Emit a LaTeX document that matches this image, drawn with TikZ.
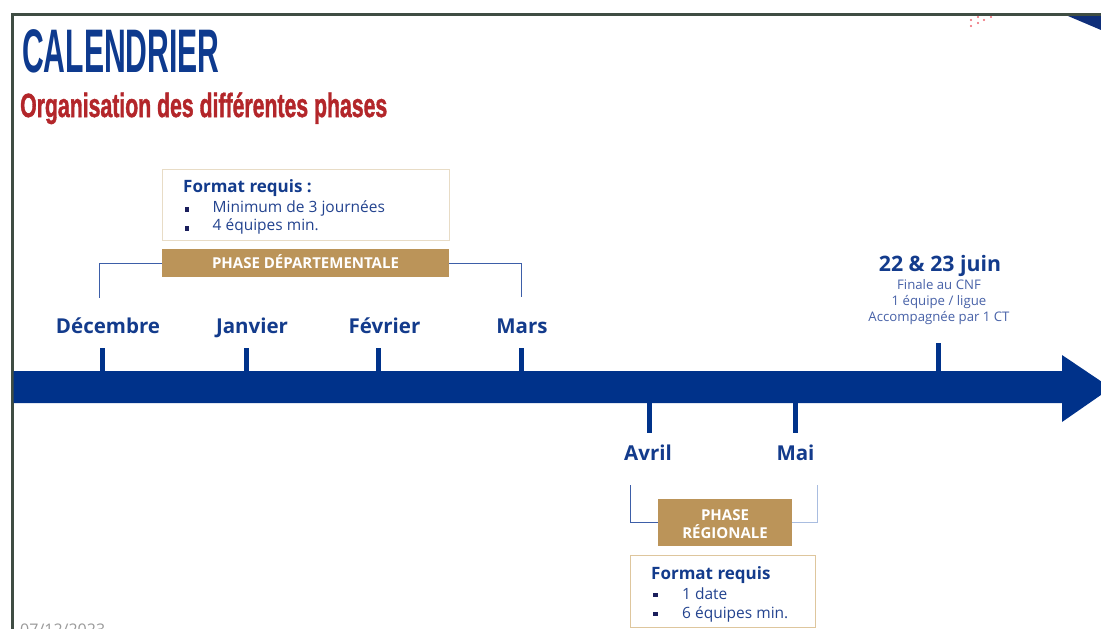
\documentclass[tikz,border=0pt]{standalone}
\usepackage{fontspec}
\setmainfont{Open Sans}
\newfontfamily\titlefont{Liberation Sans}
\newfontfamily\subfont{Liberation Sans Bold}[FakeBold=1.6]
\definecolor{navy}{HTML}{00328A}
\definecolor{titleblue}{HTML}{0E3A8E}
\definecolor{monthc}{HTML}{133B8C}
\definecolor{bodyc}{HTML}{23438F}
\definecolor{lightc}{HTML}{4862A8}
\definecolor{subred}{HTML}{B3262A}
\definecolor{gold}{HTML}{BB9459}
\definecolor{tanA}{HTML}{E8DCC6}
\definecolor{tanB}{HTML}{DEC69D}
\definecolor{brc}{HTML}{3D5EA8}
\definecolor{brclight}{HTML}{A9BDE0}
\definecolor{bulc}{HTML}{1B1F5C}
\definecolor{framec}{HTML}{3F4D43}
\definecolor{cornerc}{HTML}{0F2F7A}
\definecolor{dotc}{HTML}{EC6670}
\definecolor{datec}{HTML}{9A9A9A}
\tikzset{
  monthlbl/.style={font=\bfseries\fontsize{20.5}{24}\selectfont, text=monthc, inner sep=0pt, anchor=base},
  tickline/.style={line width=5pt, draw=navy},
  bodytxt/.style={font=\fontsize{15.5}{18}\selectfont, text=bodyc, inner sep=0pt, anchor=base west},
  fmthead/.style={font=\bfseries\fontsize{17}{20}\selectfont, text=monthc, inner sep=0pt, anchor=base west},
  goldbox/.style={fill=gold, inner sep=0pt, draw=none},
  goldtxt/.style={text=white, font=\bfseries\fontsize{15}{18}\selectfont, inner sep=0pt, anchor=base},
  fmtbox/.style={draw=#1, line width=1pt, inner sep=0pt},
  bracket/.style={draw=#1, line width=0.9pt},
  bulletsq/.style={fill=bulc},
  smalltxt/.style={font=\fontsize{13.2}{15}\selectfont, text=lightc, inner sep=0pt, anchor=base},
}
\begin{document}
\begin{tikzpicture}[x=1pt,y=-1pt]
\useasboundingbox (0,0) rectangle (1101,629);
\clip (0,0) rectangle (1101,629);
\fill[white] (0,0) rectangle (1101,629);
% frame
\fill[framec] (10.5,12.5) rectangle (1101,15.8);
\fill[framec] (10.5,12.5) rectangle (13.6,629);
\fill[cornerc] (1068,16) -- (1101,16) -- (1101,30) -- cycle;
\foreach \px/\py in {971/20,978/17,978/23,984/20,991/17,971/26}
  \fill[dotc] (\px,\py) circle (1.2);
% titles
\node[inner sep=0pt, anchor=base west, text=titleblue, font=\titlefont\bfseries\fontsize{61.5}{62}\selectfont] (title) at (22,72) {\scalebox{0.49}[1]{CALENDRIER}};
\node[inner sep=0pt, anchor=base west, text=subred, font=\subfont\fontsize{33.5}{34}\selectfont] (subtitle) at (20,117) {\scalebox{0.634}[1]{Organisation des différentes phases}};
% timeline arrow
\fill[navy] (13.6,371) -- (1062,371) -- (1062,355) -- (1111,388) -- (1062,422) -- (1062,403) -- (13.6,403) -- cycle;
% ticks
\coordinate (tDec) at (102,371);
\coordinate (tJan) at (246,371);
\coordinate (tFev) at (378,371);
\coordinate (tMar) at (521.5,371);
\coordinate (tJuin) at (938,371);
\coordinate (tAvr) at (649,403);
\coordinate (tMai) at (795,403);
\draw[tickline] (tDec) -- (102,348);
\draw[tickline] (tJan) -- (246,348);
\draw[tickline] (tFev) -- (378,348);
\draw[tickline] (tMar) -- (521.5,348);
\draw[tickline] (tJuin) -- (938,343);
\draw[tickline] (tAvr) -- (649,433);
\draw[tickline] (tMai) -- (795,433);
% month labels
\node[monthlbl] (dec) at (108,333) {Décembre};
\node[monthlbl] (jan) at (252,333) {Janvier};
\node[monthlbl] (fev) at (384.5,333) {Février};
\node[monthlbl] (mar) at (522,333) {Mars};
\node[monthlbl] (avr) at (648,460) {Avril};
\node[monthlbl] (mai) at (795.5,460) {Mai};
% juin
\node[monthlbl, font=\bfseries\fontsize{21.3}{24}\selectfont] (juin) at (940,271) {22 \& 23 juin};
\node[smalltxt] (j1) at (939,289) {Finale au CNF};
\node[smalltxt] (j2) at (939,305) {1 équipe / ligue};
\node[smalltxt] (j3) at (939,321) {Accompagnée par 1 CT};
% departmental phase
\node[fmtbox=tanA, minimum width=287pt, minimum height=71pt] (fmt1) at (305.5,204.5) {};
\node[fmthead] (fmt1h) at (183,192) {Format requis :};
\fill[bulletsq] (184.5,207) rectangle (189,211.5);
\node[bodytxt] (fmt1a) at (212.5,212) {Minimum de 3 journées};
\fill[bulletsq] (184.5,226) rectangle (189,230.5);
\node[bodytxt] (fmt1b) at (212.5,230) {4 équipes min.};
\node[goldbox, minimum width=287pt, minimum height=28pt] (depbox) at (305.5,263) {};
\node[goldtxt] (deptxt) at (305.5,268.5) {PHASE DÉPARTEMENTALE};
\coordinate (depL) at (99,298);
\coordinate (depR) at (521,297);
\draw[bracket=brc] (depbox.west) -| (depL);
\draw[bracket=brc] (depbox.east) -| (depR);
% regional phase
\node[goldbox, minimum width=134pt, minimum height=47pt] (regbox) at (725,522.5) {};
\node[goldtxt] (regtxt1) at (725,520.5) {PHASE};
\node[goldtxt] (regtxt2) at (725,538.5) {RÉGIONALE};
\coordinate (regL) at (630,485);
\coordinate (regR) at (817,485);
\draw[bracket=brc] (regbox.west) -| (regL);
\draw[bracket=brclight] (regbox.east) -| (regR);
\node[fmtbox=tanB, minimum width=185pt, minimum height=72pt] (fmt2) at (722.5,591) {};
\node[fmthead] (fmt2h) at (651,579) {Format requis};
\fill[bulletsq] (653,592.5) rectangle (657.5,597);
\node[bodytxt] (fmt2a) at (682,599) {1 date};
\fill[bulletsq] (653,611.5) rectangle (657.5,616);
\node[bodytxt] (fmt2b) at (682,618) {6 équipes min.};
% date
\node[inner sep=0pt, anchor=base west, text=datec, font=\fontsize{16}{18}\selectfont] (date) at (20,635) {07/12/2023};
\end{tikzpicture}
\end{document}
